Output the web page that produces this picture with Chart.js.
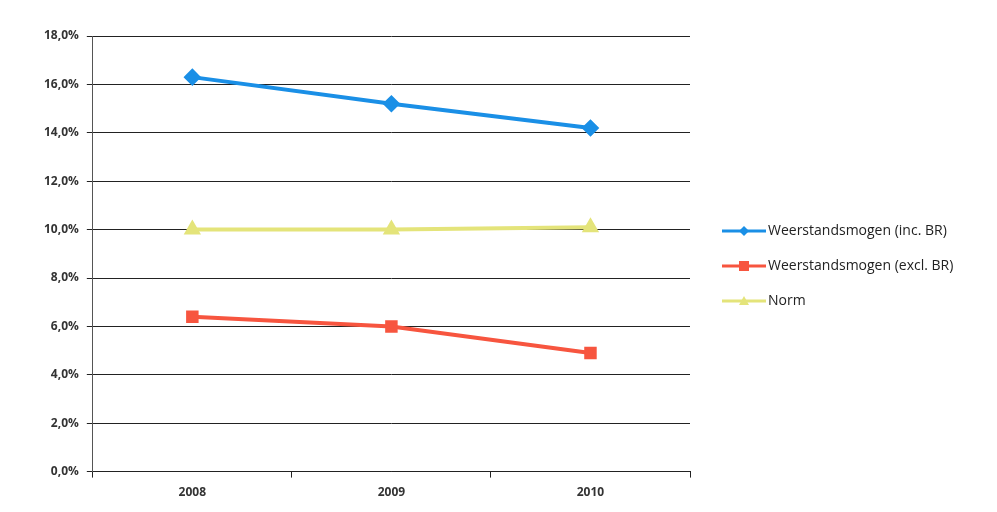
<!DOCTYPE html>
<html>
<head>
<meta charset="utf-8">
<script src="https://cdn.jsdelivr.net/npm/chart.js@4"></script>
<style>
  html, body { margin:0; padding:0; background:#fff; }
  #wrap { width:997px; height:512px; }
</style>
</head>
<body>
<div id="wrap"><canvas id="chart" width="997" height="512"></canvas></div>
<script>
// data
const years    = ['2008', '2009', '2010'];
const inclBR   = [16.3, 15.2, 14.2];
const exclBR   = [6.4, 6.0, 4.9];
const norm     = [10.0, 10.0, 10.1];
const yTicks   = [0, 2, 4, 6, 8, 10, 12, 14, 16, 18];

const BLUE = '#1a8fe6', RED = '#f7553f', YELLOW = '#e4e47a';

// legend drawn next to the plot: line with marker, then text
const sideLegend = {
  id: 'sideLegend',
  afterDraw(chart) {
    const c = chart.ctx;
    const x0 = chart.chartArea.right + 32;
    chart.data.datasets.forEach((d, i) => {
      const y = 231 + i * 35;
      c.save();
      c.strokeStyle = d.borderColor; c.fillStyle = d.borderColor; c.lineWidth = 3;
      c.beginPath(); c.moveTo(x0, y); c.lineTo(x0 + 44, y); c.stroke();
      const mx = x0 + 22;
      c.beginPath();
      if (d.pointStyle === 'rectRot') { c.moveTo(mx, y - 5); c.lineTo(mx + 5, y); c.lineTo(mx, y + 5); c.lineTo(mx - 5, y); }
      else if (d.pointStyle === 'rect') { c.rect(mx - 5, y - 5, 10, 10); }
      else { c.moveTo(mx, y - 5); c.lineTo(mx + 5, y + 4); c.lineTo(mx - 5, y + 4); }
      c.closePath(); c.fill();
      c.fillStyle = '#222';
      c.font = '14px "Open Sans"';
      c.textBaseline = 'middle';
      c.fillText(d.label, x0 + 46, y);
      c.restore();
    });
  }
};

const tickFont = { family:'Open Sans', size:12, weight:'bold' };

const ctx = document.getElementById('chart').getContext('2d');
new Chart(ctx, {
  type: 'line',
  data: {
    labels: years,
    datasets: [
      { label:'Weerstandsmogen (inc. BR)', data:inclBR, borderColor:BLUE, backgroundColor:BLUE,
        borderWidth:4, pointStyle:'rectRot', pointRadius:6 },
      { label:'Weerstandsmogen (excl. BR)', data:exclBR, borderColor:RED, backgroundColor:RED,
        borderWidth:4, pointStyle:'rect', pointRadius:6 },
      { label:'Norm', data:norm, borderColor:YELLOW, backgroundColor:YELLOW,
        borderWidth:4, pointStyle:'triangle', pointRadius:6 }
    ]
  },
  options: {
    responsive:false,
    animation:false,
    layout:{ padding:{ top:36, left:36, right:307, bottom:4 } },
    scales: {
      x: {
        offset:true,
        grid:{ offset:true, drawOnChartArea:false, color:'#222', tickLength:6 },
        border:{ color:'#222' },
        ticks:{ color:'#333', font:tickFont, padding:8 }
      },
      y: {
        min:0, max:18,
        afterBuildTicks: (axis) => { axis.ticks = yTicks.map(v => ({ value:v })); },
        grid:{ color:'#222', lineWidth:1, tickLength:6 },
        border:{ color:'#555' },
        ticks:{ color:'#333', font:tickFont, padding:8,
          callback: v => v.toFixed(1).replace('.', ',') + '%' }
      }
    },
    plugins: {
      legend:{ display:false },
      tooltip:{ enabled:false }
    }
  },
  plugins:[sideLegend]
});
</script>
</body>
</html>
